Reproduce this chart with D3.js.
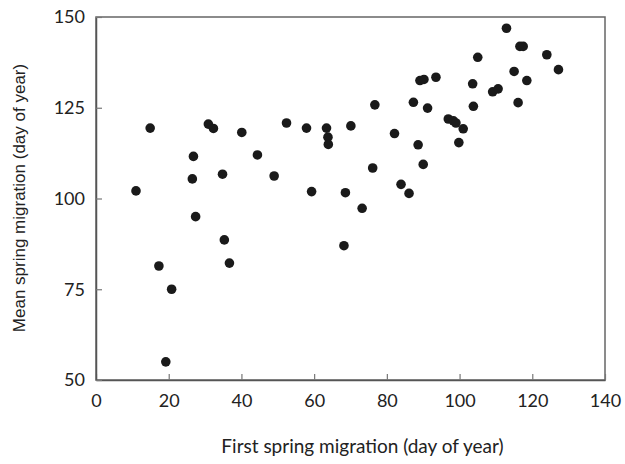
<!DOCTYPE html>
<html><head><meta charset="utf-8">
<script src="https://cdn.jsdelivr.net/npm/d3@7"></script>
<style>body{margin:0;background:#fff}</style>
</head><body>
<svg id="c" width="625" height="464"></svg>
<script>
const firstDay = [11.0,14.9,17.3,19.2,20.8,26.5,26.8,27.4,30.9,32.3,34.8,35.3,36.7,40.1,44.4,49.0,52.4,57.9,59.3,63.4,63.8,63.9,68.2,68.6,70.1,73.2,76.1,76.7,82.1,83.9,86.1,87.3,88.6,89.1,90.0,90.2,91.2,93.5,96.9,98.3,99.0,99.8,101.0,103.6,103.8,105.0,109.1,110.6,112.9,115.0,116.1,116.6,117.5,118.5,124.0,127.2];
const meanDay = [102.1,119.4,81.4,55.0,75.0,105.4,111.6,95.0,120.5,119.3,106.7,88.6,82.2,118.2,112.0,106.2,120.8,119.4,101.9,119.4,116.9,114.9,87.0,101.6,120.0,97.3,108.4,125.8,117.9,103.9,101.4,126.5,114.8,132.5,109.4,132.8,124.9,133.4,121.9,121.4,120.8,115.4,119.2,131.6,125.4,138.9,129.4,130.2,146.9,135.0,126.4,141.9,141.9,132.5,139.6,135.5];
const xTicks = [0,20,40,60,80,100,120,140];
const yTicks = [50,75,100,125,150];
const xTitle = "First spring migration (day of year)";
const yTitle = "Mean spring migration (day of year)";

const svg = d3.select("#c");
const L=96, R=605, T=17, B=380;
const x = d3.scaleLinear().domain([0,140]).range([L,R]);
const y = d3.scaleLinear().domain([50,150]).range([B,T]);
const tickFont = "Lato, 'Noto Sans', sans-serif";

// frame
svg.append("rect").attr("x",L).attr("y",T).attr("width",R-L).attr("height",B-T)
  .attr("fill","none").attr("stroke","#666").attr("stroke-width",1.5);

const gx = svg.append("g").attr("transform",`translate(0,${B})`)
  .call(d3.axisBottom(x).tickValues(xTicks).tickSizeInner(-6).tickSizeOuter(0).tickPadding(14));
const gy = svg.append("g").attr("transform",`translate(${L},0)`)
  .call(d3.axisLeft(y).tickValues(yTicks).tickSizeInner(-6).tickSizeOuter(0).tickPadding(11));
[gx,gy].forEach(g=>{
  g.select(".domain").attr("stroke","#555").attr("stroke-width",1.5);
  g.selectAll(".tick line").attr("stroke","#777").attr("stroke-width",1.2);
  g.selectAll(".tick text").attr("font-family",tickFont).attr("font-size",18).attr("fill","#222");
});
gx.selectAll(".tick text").attr("dy","0.71em");

svg.append("g").selectAll("circle").data(firstDay.map((d,i)=>[d,meanDay[i]]))
  .join("circle").attr("cx",d=>x(d[0])).attr("cy",d=>y(d[1])).attr("r",4.8).attr("fill","#1a1a1a");

svg.append("text").attr("x",(L+R)/2+12).attr("y",453).attr("text-anchor","middle")
  .attr("font-family",tickFont).attr("font-size",19).attr("fill","#222").text(xTitle);
svg.append("text").attr("transform",`translate(25,198) rotate(-90)`).attr("text-anchor","middle")
  .attr("font-family","'Liberation Sans', Arial, sans-serif").attr("font-size",17).attr("fill","#222").text(yTitle);
</script>
</body></html>
